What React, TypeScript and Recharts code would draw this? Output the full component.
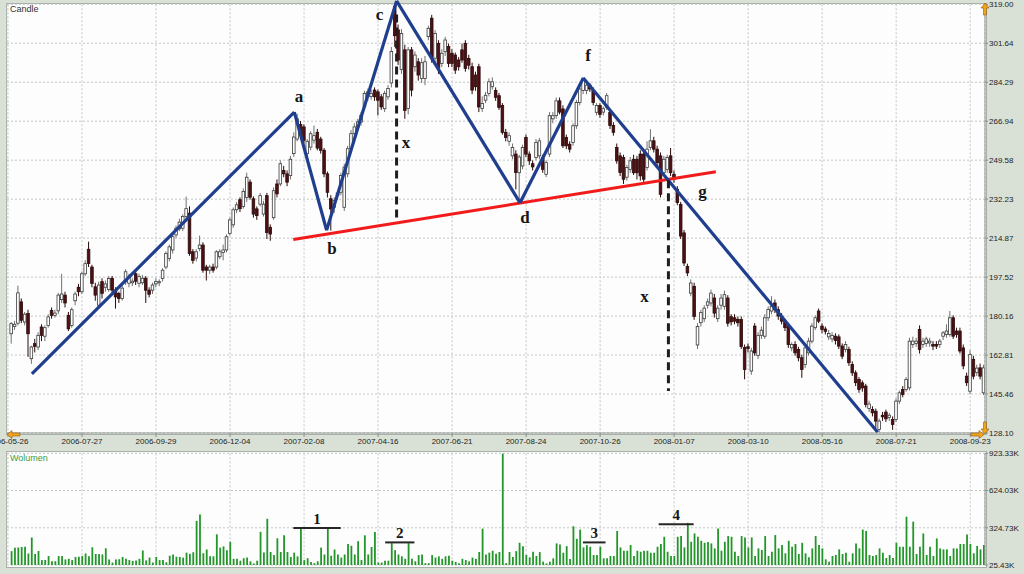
import { Bar, CartesianGrid, ComposedChart, ReferenceDot, ReferenceLine, XAxis, YAxis } from "recharts";

// date labels, one every 22 candles
const dateLabels = [
  "2006-05-26", "2006-07-27", "2006-09-29", "2006-12-04", "2007-02-08", "2007-04-16", "2007-06-21",
  "2007-08-24", "2007-10-26", "2008-01-07", "2008-03-10", "2008-05-16", "2008-07-21", "2008-09-23",
];
const labelStep = 22;

const priceTicks = [128.1, 145.46, 162.81, 180.16, 197.52, 214.87, 232.23, 249.58, 266.94, 284.29, 301.64, 319.0];
const volumeTicks = [25.43, 324.73, 624.03, 923.33];

const opens = [
  172.3, 175.5, 177, 186.5, 177.5, 181.3, 161.2, 167.9, 166.4, 175.3, 171.2, 176, 182.7, 180.5, 182.5, 187.5, 189.5, 180.5, 176, 187,
  193, 191, 199, 209.9, 202, 193.2, 185, 195.5, 193, 192, 197, 191.7, 190.2, 188, 195.4, 194.8, 195, 199, 194.8, 195,
  197, 191.7, 191.7, 194.5, 195, 196.9, 202, 205.8, 209.6, 216.3, 219, 219.3, 224.5, 226, 208.8, 206, 210.2, 211.8, 202, 200.6,
  202, 202, 206.6, 208.5, 209.6, 217, 220.8, 227.5, 232, 229, 233, 239.8, 232.4, 227.9, 230, 225.6, 233.8, 219.7, 224, 239,
  239, 245, 243.5, 242.7, 252.5, 259, 265.5, 264.4, 252.5, 255.4, 258.5, 262, 259, 254, 243.5, 232.4, 228.6, 233.8, 235.3, 228.6,
  243.5, 254.7, 261.4, 264.4, 266.6, 273.3, 277.8, 278, 280.8, 280, 277.8, 272.5, 277.8, 284, 318, 307.6, 290, 298.7, 272.6, 298.7,
  291.2, 293.4, 286, 286, 304.6, 312.8, 295, 301.6, 292.7, 297.9, 300.2, 297.2, 296.4, 294.2, 298.7, 301.6, 294.9, 291.2, 287.5, 291.2,
  272.6, 276.3, 279.3, 282.3, 280.6, 278.3, 273.9, 262, 258, 251.5, 252.3, 244, 247, 259.7, 252.3, 248, 250.8, 251.5, 250.8, 243.3,
  252.3, 268, 269.4, 276, 272.4, 259.7, 256.7, 257.5, 264.9, 275.3, 280.6, 280.6, 283, 280.6, 270.9, 273.9, 271, 273.1, 270.9, 265,
  255.2, 251.5, 250.8, 242, 245.5, 250, 250, 252.3, 252.3, 246.3, 255.2, 258.2, 254.5, 251.5, 244, 245.5, 251.5, 243.3, 236.6, 229.9,
  217.2, 202.3, 190.4, 193.4, 167.3, 177.2, 179, 185, 186, 188.2, 179, 185, 184.5, 188.2, 179.9, 179.4, 178.7, 178.6, 166.2, 166.5,
  155.7, 175.7, 162.6, 171.6, 171.2, 179.4, 182.4, 186, 183, 180.2, 177.9, 175.7, 166, 167.5, 165.3, 161.6, 158.6, 163.8, 169, 175,
  182.4, 175.7, 174.4, 170.9, 170, 171.2, 170.9, 166.8, 165.3, 165.3, 158.6, 154.9, 151.9, 150.4, 149, 139, 138.6, 137.8, 129.7, 136,
  137.4, 135, 134.1, 134.1, 142.3, 147.5, 147.5, 148.2, 167.5, 168, 174.2, 167.5, 168, 168.2, 167.5, 167.5, 167.5, 171.2, 172, 172,
  179.4, 173.5, 173.5, 166, 153.4, 146.7, 160.9, 155, 157.1, 146,
];
const highs = [
  177.5, 178, 193.7, 188, 182, 183, 167, 170, 173, 176.5, 176, 181, 184, 183, 190.5, 199, 191, 182, 184, 191,
  194.5, 200, 205, 213.3, 203, 195, 195.5, 197, 196, 198, 198, 193, 191, 194, 201, 199, 197, 200.5, 199, 198.5,
  198, 193, 195, 197, 196.5, 201.5, 209, 212, 216.5, 220.5, 223.5, 225.5, 233.4, 229, 210, 210, 216, 213, 203, 203,
  203.5, 209.5, 210, 212, 216.5, 224, 228.5, 231, 233, 237, 244, 241, 233.5, 229, 235, 231.5, 235, 221, 237.5, 241,
  249.5, 247, 245, 251.5, 262, 270.3, 267, 265.5, 259, 262.5, 265, 263.5, 260, 255, 244.5, 234, 233, 236, 244, 248,
  256, 263, 266, 268, 271, 280.5, 281.5, 281, 282, 281, 279, 280.5, 283, 300, 319.5, 310, 308, 301, 300, 300,
  298, 295, 295, 296, 309.5, 314.3, 307.5, 303, 299, 304.5, 301.5, 299, 297.5, 295.5, 301.5, 303, 296.5, 293, 289, 292.5,
  278, 280, 286, 286.5, 282, 279.5, 275, 263.5, 262, 257, 254, 252, 256.5, 261, 253.5, 249.5, 259, 259.5, 252, 249.5,
  271, 271, 277.5, 277.5, 274, 261, 258, 266, 276.5, 282.5, 286.5, 284.5, 284, 282, 275, 275, 273.5, 279.5, 272, 266.5,
  257, 253, 252, 247.5, 251, 252, 251.5, 254, 253.5, 258, 263.4, 260, 256, 253, 251.5, 252, 255, 245, 238, 231,
  218.5, 203.5, 196.5, 195, 177, 183, 185, 188, 192, 190, 185, 190, 191.5, 189.5, 181, 181, 180, 180, 167.5, 168,
  166, 177, 173, 175.5, 181, 184.5, 189, 187.5, 184.5, 181.5, 179, 177, 168.5, 169, 166.5, 163, 167.5, 170.5, 177, 180.5,
  183.5, 177, 175.5, 174, 173, 172.5, 172, 168, 169, 166.5, 160, 156, 153, 151.5, 150, 142.5, 140, 139, 134.5, 137.5,
  138.5, 137, 135.5, 143.5, 147, 149, 153, 170.5, 171, 170.5, 176, 170.5, 171, 170.5, 169, 169, 170, 173.5, 176.5, 182.4,
  180.5, 175, 175, 167.5, 155, 165, 162.5, 158.5, 159, 158.5,
];
const lows = [
  167.9, 174, 176, 177, 176, 162, 158.9, 164, 165, 169, 169, 175, 179, 179.5, 181, 186, 184, 173.5, 175, 185,
  189, 190, 198, 202, 193, 187, 184, 188, 191, 191, 190, 183.5, 186, 187, 194, 193, 193.5, 194, 193, 194,
  186, 188.5, 190, 193, 193.5, 195.5, 201, 204.5, 208, 215, 218, 218, 223, 207, 203.5, 204.5, 209, 199.5, 196, 199,
  199.5, 201, 205.5, 205, 208.5, 216, 219.5, 226, 226.5, 228, 231, 232, 224, 223, 229, 224.5, 214.5, 213.7, 223, 233,
  238, 242, 238, 241, 251, 258, 260, 257, 251, 254, 257, 254, 252.5, 242, 233, 218.2, 226, 232, 234, 227,
  242, 253, 260, 263, 265, 272, 276, 276.5, 276, 269.5, 272, 271, 276.5, 282, 300, 292, 288, 268, 270, 278,
  289, 285, 284, 283, 303, 293, 293, 288, 291, 296, 291, 291, 288, 289.5, 293, 289, 290, 279, 280.5, 271,
  271, 275, 278, 281, 276, 272, 261, 258, 256, 250, 236.6, 230.7, 245.5, 251, 247.5, 245, 249.5, 250, 244, 242,
  251, 266, 268, 270, 255, 254.5, 253, 256, 263.5, 274, 279, 279, 280, 274, 269.5, 268.5, 269.5, 272, 263.5, 260.5,
  248, 242.5, 239, 240.5, 244, 243, 241, 240.5, 239.5, 245, 254, 253, 247, 233, 242.5, 244, 242.5, 239.5, 229.5, 214.5,
  202.5, 198, 189, 178.5, 165.5, 175.5, 177.5, 183.5, 184.5, 179.5, 177.5, 183, 183, 175.5, 176, 176.5, 175.5, 165.5, 152, 164,
  154, 162.5, 161, 170, 170, 178, 181, 181.5, 178.5, 176.5, 173.5, 166, 164.5, 162.5, 160, 152.7, 157, 162.5, 168, 174,
  177, 172.5, 172, 169.5, 168.5, 167.5, 165.5, 161, 164, 158, 153.5, 149, 146, 146.5, 139.5, 137.5, 135.5, 130.4, 128.5, 133.5,
  133, 133.5, 129.5, 133, 141, 144, 146.5, 147, 166, 166.5, 163.5, 166, 166.5, 166.5, 165, 165.5, 166, 169.5, 170.5, 171,
  170, 170.5, 163.5, 156.5, 149, 145.5, 152, 153.5, 152, 145,
];
const closes = [
  176.8, 176.5, 190.5, 178.3, 181, 172.3, 166.4, 166.7, 171.6, 171.6, 175, 179.8, 180.5, 181.5, 189.5, 190, 186, 174.5, 183, 190,
  191, 199, 203.5, 203.6, 194.7, 189.5, 194, 190.3, 194.5, 196.9, 191.7, 188.7, 188, 192.6, 199.9, 197.5, 195.7, 195.7, 197.8, 197,
  191.7, 189.9, 194, 195.5, 195.5, 200.6, 208, 211, 215.5, 219.3, 222, 224.5, 228, 208, 205, 208.8, 211.8, 200.6, 200.6, 202,
  200.6, 208.8, 208.8, 209.6, 215.5, 223, 227.5, 229.7, 228, 235.7, 242, 233.1, 225.6, 224.9, 233.8, 230, 217.4, 216.7, 236, 234.6,
  248, 243.5, 239.8, 250, 259.9, 268, 261.4, 258.4, 258, 261.4, 260.5, 255, 254, 243.5, 235.3, 227.9, 231.6, 235, 242.8, 246.5,
  254.7, 261.4, 264.4, 266.6, 269.6, 279.3, 280, 279.3, 277.8, 276.3, 273.3, 279.3, 281.5, 298, 305, 294.2, 306, 271.8, 298.7, 280.8,
  296.4, 287.5, 293, 293.4, 308.3, 294.9, 306, 290.5, 297.2, 303.1, 292.7, 292.7, 289.7, 291.2, 294.2, 290.5, 291.9, 280.8, 282.3, 273.3,
  274.8, 278.5, 284.5, 284.5, 277.6, 273.1, 262, 259.7, 260.5, 255.2, 244.1, 251, 255.2, 252.3, 249.3, 246.6, 257.5, 258.2, 245.5, 248.5,
  269.4, 269.4, 276, 271, 256, 256, 254.5, 264.9, 275.3, 281.3, 285, 283, 281.3, 275.3, 273.9, 270, 272.5, 278.3, 265, 262,
  249.3, 244.1, 241.1, 246.3, 249.3, 244, 244, 242.6, 241.1, 254.5, 258.2, 254.5, 248.5, 234.4, 250, 250.8, 244, 241.1, 230.7, 215.8,
  203.8, 199.4, 194.9, 180, 175.5, 181.7, 183.7, 186.5, 190.4, 181.5, 183.7, 188.2, 189.7, 177, 177.6, 177.9, 177.2, 166.6, 156.4, 165.8,
  164.6, 163.8, 171.6, 173.9, 179.4, 183.1, 184.6, 183, 180.2, 177.9, 175, 167.5, 167.5, 163.8, 161.6, 156.4, 166, 169, 175.7, 179.4,
  177.9, 174.2, 173.4, 172.4, 171.5, 169.3, 166.8, 162.3, 167.5, 159.4, 154.9, 150.5, 147.5, 148.2, 140.8, 141, 137.1, 133.4, 133.4, 135.3,
  134.4, 136, 131.9, 142.3, 146, 145.2, 151.9, 169, 169, 169, 165.3, 169, 170, 169, 166.8, 166.8, 169, 172.7, 173.5, 179.4,
  171.2, 172, 164.6, 158, 150.5, 163.1, 153.4, 157, 153.4, 157.1,
];
// volume in thousands
const volumes = [
  137, 164, 166, 170, 172, 118, 247, 114, 138, 65, 66, 97, 55, 56, 97, 98, 70, 75, 65, 90,
  92, 98, 118, 96, 168, 114, 114, 110, 160, 70, 45, 70, 72, 90, 75, 65, 58, 62, 75, 142,
  62, 85, 45, 90, 65, 65, 48, 100, 110, 92, 90, 85, 125, 115, 128, 380, 432, 120, 150, 95,
  95, 272, 165, 175, 145, 212, 75, 75, 60, 80, 85, 55, 38, 60, 292, 125, 397, 130, 105, 240,
  130, 265, 130, 90, 125, 95, 315, 65, 80, 50, 40, 55, 165, 110, 315, 100, 150, 110, 85, 110,
  195, 180, 110, 217, 65, 264, 110, 170, 291, 45, 45, 60, 60, 201, 145, 110, 95, 75, 201, 75,
  55, 105, 110, 40, 40, 105, 85, 95, 75, 95, 100, 60, 50, 40, 75, 65, 55, 85, 75, 130,
  318, 110, 125, 140, 115, 130, 921, 40, 130, 90, 137, 204, 177, 106, 87, 132, 98, 129, 52, 38,
  52, 79, 199, 191, 124, 177, 73, 337, 236, 310, 167, 185, 172, 106, 106, 172, 79, 79, 98, 98,
  299, 167, 140, 140, 186, 98, 140, 132, 140, 140, 124, 124, 172, 194, 252, 132, 98, 98, 252, 258,
  167, 364, 212, 279, 252, 220, 204, 210, 199, 159, 319, 140, 212, 258, 252, 132, 98, 258, 247, 167,
  247, 98, 159, 146, 258, 98, 132, 266, 159, 186, 119, 220, 172, 194, 114, 204, 119, 87, 159, 258,
  186, 159, 71, 52, 98, 106, 151, 114, 124, 52, 119, 199, 159, 310, 299, 106, 98, 106, 159, 124,
  82, 106, 82, 204, 172, 172, 414, 172, 374, 114, 172, 279, 106, 172, 98, 239, 159, 151, 151, 98,
  159, 159, 194, 194, 271, 194, 119, 178, 151, 186,
];

// pattern lines (candle index, price)
const zigzagIdx = [7.1, 85.1, 94.7, 115.5, 152.2, 171, 258.5];
const zigzagPrice = [154.4, 271.0, 218.4, 320.5, 230.6, 286.2, 128.4];
const necklineIdx = [84.8, 210.4];
const necklinePrice = [214.3, 244.4];
const targetIdx = [115.5, 196.3];
const targetTop = [314.5, 240.7];
const targetBottom = [223.7, 146.8];
const letterNames = ["a", "b", "c", "x", "d", "f", "g", "x"];
const letterIdx = [86.5, 96.3, 110.4, 118.3, 153.7, 172.4, 206.4, 189.2];
const letterPrice = [278.3, 210.5, 314.5, 257.9, 224.3, 296.6, 235.8, 189];
// volume markers
const markNames = ["1", "2", "3", "4"];
const markFrom = [84.8, 112.1, 170.9, 193.4];
const markTo = [98.9, 120.8, 177.6, 203.8];
const markLevel = [322, 207, 207, 352];
const markTextLevel = [394, 282, 282, 426];

const data = closes.map((close, k) => ({
  idx: k + 1,
  open: opens[k],
  high: highs[k],
  low: lows[k],
  close,
  range: [lows[k], highs[k]],
  volume: volumes[k],
}));

const xTicks = dateLabels.map((_, k) => k * labelStep);
const xDomain: [number, number] = [-0.3, 290.4];
const axisFont = { fontSize: 8, fill: "#1c1c1c", fontFamily: "Liberation Sans, Arial, sans-serif" };
const letterStyle = { fill: "#151515", fontSize: 17, fontFamily: "Liberation Serif, serif", fontWeight: "bold" };

function Candle(props: any) {
  const { x, y, width, height, payload } = props;
  const top = Math.min(y, y + height);
  const h = Math.abs(height);
  const span = payload.high - payload.low || 1;
  const toY = (v: number) => top + ((payload.high - v) / span) * h;
  const cx = x + width / 2;
  const up = payload.close >= payload.open;
  const bodyTop = toY(Math.max(payload.open, payload.close));
  const bodyBottom = toY(Math.min(payload.open, payload.close));
  return (
    <g>
      <line x1={cx} x2={cx} y1={top} y2={top + h} stroke={up ? "#707070" : "#2b0a0a"} strokeWidth={1} />
      <rect
        x={cx - 1.3}
        y={bodyTop}
        width={2.6}
        height={Math.max(bodyBottom - bodyTop, 0.8)}
        fill={up ? "#ffffff" : "#4e1015"}
        stroke={up ? "#3a3a3a" : "#2b0a0a"}
        strokeWidth={0.8}
      />
    </g>
  );
}

function Arrows() {
  return (
    <svg width={1024} height={574} style={{ position: "absolute", left: 0, top: 0, pointerEvents: "none" }}>
      <polygon points="985,3 981,8 983.5,8 983.5,15 986.5,15 986.5,8 989,8" fill="#f4a11c" stroke="#8a5a10" strokeWidth={0.6} />
      <polygon points="7,434.5 12,430.5 12,433 20,433 20,436 12,436 12,438.5" fill="#f4a11c" stroke="#8a5a10" strokeWidth={0.6} />
      <polygon points="984,434.5 979,430.5 979,433 971,433 971,436 979,436 979,438.5" fill="#f4a11c" stroke="#8a5a10" strokeWidth={0.6} />
      <polygon points="985,434 981,429 983.5,429 983.5,422 986.5,422 986.5,429 989,429" fill="#f4a11c" stroke="#8a5a10" strokeWidth={0.6} />
    </svg>
  );
}

export default function App() {
  return (
    <div style={{ position: "absolute", left: 0, top: 0, width: 1024, height: 574, background: "#d9e1d7", overflow: "hidden" }}>
      <div style={{ position: "absolute", left: 6, top: 3, width: 979, height: 430, background: "#fcfdfc", border: "1px solid #a9b0a9" }} />
      <div style={{ position: "absolute", left: 6, top: 451, width: 979, height: 115, background: "#fcfdfc", border: "1px solid #a9b0a9" }} />

      <div style={{ position: "absolute", left: 0, top: 0 }}>
        <ComposedChart width={1024} height={450} data={data} margin={{ top: 4.3, right: 0, bottom: 0, left: 7 }}>
          <CartesianGrid stroke="#c3c8c6" strokeDasharray="2 2" />
          <XAxis
            dataKey="idx"
            type="number"
            domain={xDomain}
            allowDataOverflow
            ticks={xTicks}
            interval={0}
            height={17}
            tickSize={4}
            tickMargin={1}
            stroke="#8c918c"
            tick={axisFont}
            tickFormatter={(v: number) => dateLabels[Math.round(v / labelStep)] ?? ""}
          />
          <YAxis
            orientation="right"
            type="number"
            domain={[128.1, 319]}
            allowDataOverflow
            ticks={priceTicks}
            interval={0}
            width={39}
            tickSize={3}
            tickMargin={1}
            stroke="#8c918c"
            tick={axisFont}
            tickFormatter={(v: number) => v.toFixed(2)}
          />
          <Bar dataKey="range" barSize={3} shape={<Candle />} isAnimationActive={false} />
          <ReferenceLine
            segment={[{ x: necklineIdx[0], y: necklinePrice[0] }, { x: necklineIdx[1], y: necklinePrice[1] }]}
            stroke="#f21b1b"
            strokeWidth={3}
            ifOverflow="visible"
          />
          {zigzagIdx.slice(1).map((xi, k) => (
            <ReferenceLine
              key={`zz${k}`}
              segment={[{ x: zigzagIdx[k], y: zigzagPrice[k] }, { x: xi, y: zigzagPrice[k + 1] }]}
              stroke="#1f3e8e"
              strokeWidth={3.2}
              ifOverflow="visible"
            />
          ))}
          {targetIdx.map((xi, k) => (
            <ReferenceLine
              key={`tg${k}`}
              segment={[{ x: xi, y: targetTop[k] }, { x: xi, y: targetBottom[k] }]}
              stroke="#1e1e1e"
              strokeWidth={3}
              strokeDasharray="8 5"
              ifOverflow="visible"
            />
          ))}
          {letterNames.map((name, k) => (
            <ReferenceDot
              key={`lt${k}`}
              x={letterIdx[k]}
              y={letterPrice[k]}
              r={0}
              fill="none"
              stroke="none"
              ifOverflow="visible"
              label={{ value: name, position: "center", ...letterStyle }}
            />
          ))}
        </ComposedChart>
      </div>

      <div style={{ position: "absolute", left: 0, top: 450 }}>
        <ComposedChart width={1024} height={124} data={data} margin={{ top: 3.3, right: 0, bottom: 9, left: 7 }}>
          <CartesianGrid stroke="#c3c8c6" strokeDasharray="2 2" />
          <XAxis dataKey="idx" type="number" domain={xDomain} allowDataOverflow ticks={xTicks} interval={0} hide />
          <YAxis
            orientation="right"
            type="number"
            domain={[25.43, 923.33]}
            allowDataOverflow
            ticks={volumeTicks}
            interval={0}
            width={39}
            tickSize={3}
            tickMargin={1}
            stroke="#8c918c"
            tick={axisFont}
            tickFormatter={(v: number) => `${v.toFixed(2)}K`}
          />
          <Bar dataKey="volume" barSize={1.8} fill="#23962a" isAnimationActive={false} />
          {markNames.map((name, k) => (
            <ReferenceLine
              key={`mk${k}`}
              segment={[{ x: markFrom[k], y: markLevel[k] }, { x: markTo[k], y: markLevel[k] }]}
              stroke="#262626"
              strokeWidth={2}
            />
          ))}
          {markNames.map((name, k) => (
            <ReferenceDot
              key={`mt${k}`}
              x={(markFrom[k] + markTo[k]) / 2}
              y={markTextLevel[k]}
              r={0}
              fill="none"
              stroke="none"
              ifOverflow="visible"
              label={{ value: name, position: "center", ...letterStyle, fontSize: 15 }}
            />
          ))}
        </ComposedChart>
      </div>

      <div style={{ position: "absolute", left: 10, top: 4, fontFamily: "Liberation Sans, Arial, sans-serif", fontSize: 9, color: "#333" }}>
        Candle
      </div>
      <div style={{ position: "absolute", left: 10, top: 453, fontFamily: "Liberation Sans, Arial, sans-serif", fontSize: 9, color: "#3c9c3c" }}>
        Wolumen
      </div>
      <Arrows />
    </div>
  );
}
